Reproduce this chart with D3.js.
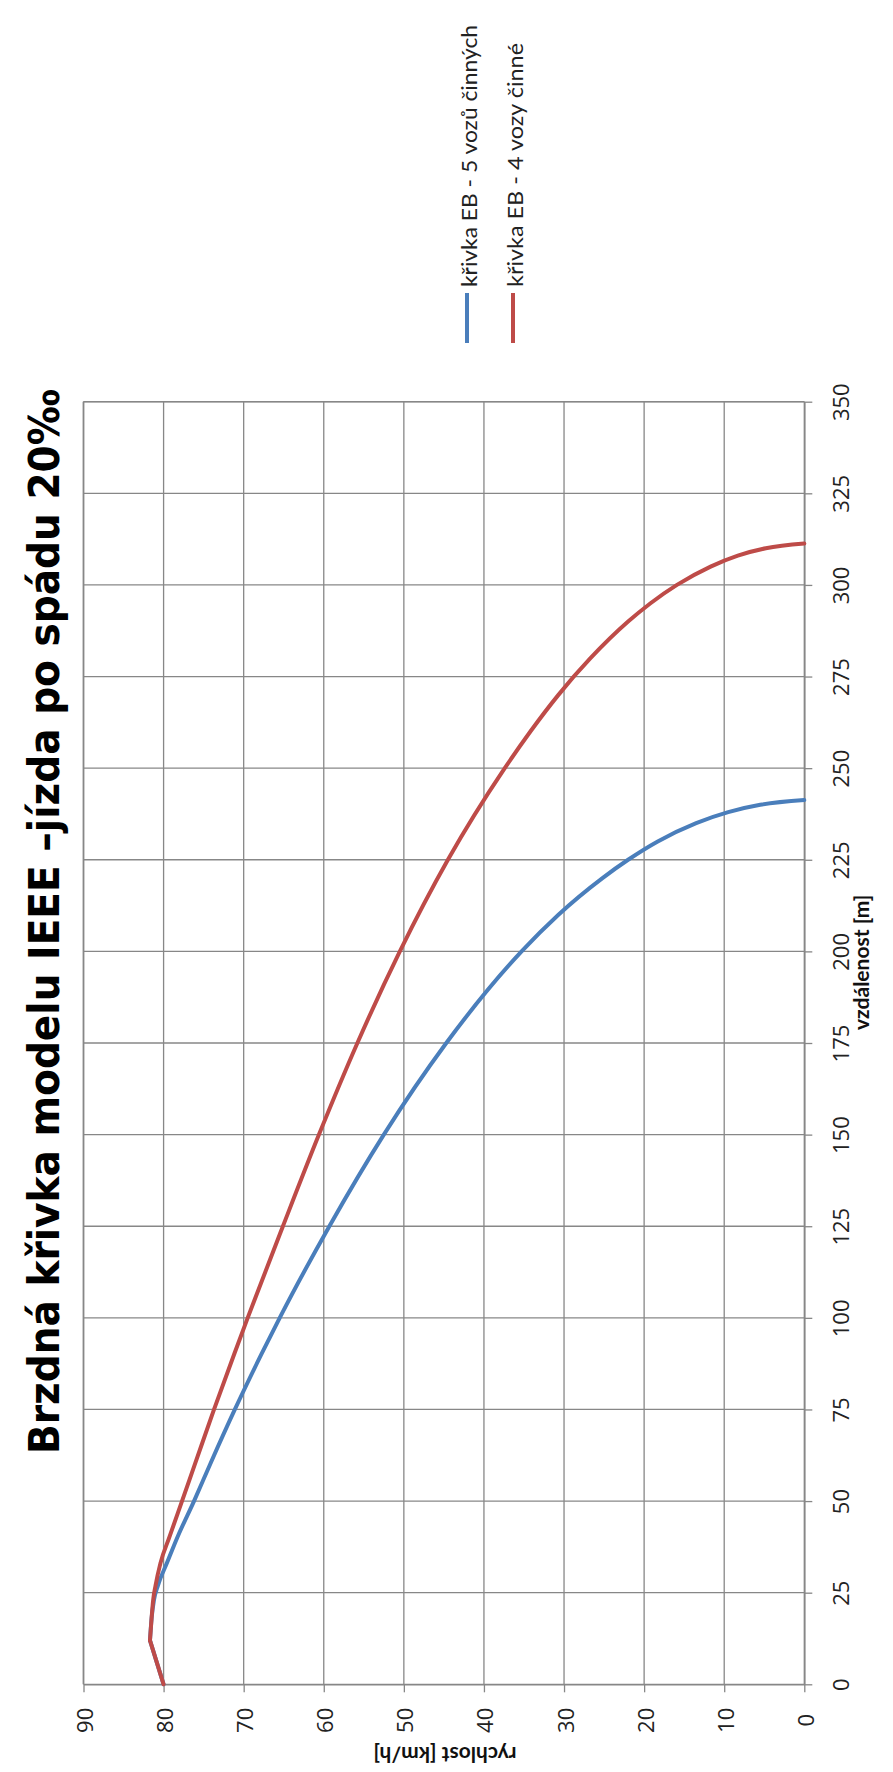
<!DOCTYPE html>
<html>
<head>
<meta charset="utf-8">
<script src="https://cdn.jsdelivr.net/npm/d3@7"></script>
<style>
  html, body { margin: 0; padding: 0; background: #fff; }
  svg { display: block; }
</style>
</head>
<body>
<svg id="chart" width="893" height="1772"></svg>
<script>
// ---- data (distance [m] -> speed [km/h]) ----
const title = "Brzdná křivka modelu IEEE –jízda po spádu 20‰";
const xAxisTitle = "vzdálenost [m]";
const yAxisTitle = "rychlost [km/h]";
const distanceTicks = [0, 25, 50, 75, 100, 125, 150, 175, 200, 225, 250, 275, 300, 325, 350];
const speedTicks = [0, 10, 20, 30, 40, 50, 60, 70, 80, 90];
const seriesNames = ["křivka EB - 5 vozů činných", "křivka EB - 4 vozy činné"];

const dist5 = [0, 12, 18, 23, 27, 33, 40, 50, 60, 75, 90, 100, 125, 150, 175, 200, 210, 220, 225, 230, 235, 238, 240, 241.3];
const speed5 = [80, 81.7, 81.5, 81.2, 80.7, 79.6, 78.3, 76.2, 74.2, 71.1, 67.8, 65.5, 59.3, 52.5, 44.7, 35.3, 30.7, 25.2, 22.0, 18.3, 13.5, 9.5, 5.5, 0];

const dist4 = [0, 12, 18, 23, 27, 33, 40, 50, 60, 75, 90, 100, 125, 150, 175, 200, 225, 250, 260, 270, 280, 290, 295, 300, 305, 308, 310, 311.3];
const speed4 = [80, 81.7, 81.5, 81.3, 81.0, 80.4, 79.3, 77.7, 76.1, 73.7, 71.2, 69.5, 65.1, 60.6, 55.8, 50.5, 44.5, 37.4, 34.2, 30.7, 26.7, 22.0, 19.2, 15.9, 11.7, 8.3, 4.8, 0];

const colors = ["#4A7EBB", "#BE4B48"];

// ---- layout ----
const svg = d3.select("#chart");
const plot = { left: 83.5, right: 804.3, top: 401.7, bottom: 1684.3 };

const sx = d3.scaleLinear().domain([90, 0]).range([plot.left, plot.right]);   // speed (horizontal)
const sy = d3.scaleLinear().domain([0, 350]).range([plot.bottom, plot.top]);  // distance (vertical)

const gridColor = "#878787";
const tickFont = "'Open Sans', 'DejaVu Sans', sans-serif";

// gridlines
const g = svg.append("g");
g.selectAll("line.vg").data(speedTicks).enter().append("line")
  .attr("x1", d => sx(d)).attr("x2", d => sx(d))
  .attr("y1", plot.top).attr("y2", plot.bottom)
  .attr("stroke", gridColor).attr("stroke-width", 1.3);
g.selectAll("line.hg").data(distanceTicks).enter().append("line")
  .attr("x1", plot.left).attr("x2", plot.right)
  .attr("y1", d => sy(d)).attr("y2", d => sy(d))
  .attr("stroke", gridColor).attr("stroke-width", 1.3);

// distance axis (right)
const axR = svg.append("g")
  .attr("transform", `translate(${plot.right},0)`)
  .call(d3.axisRight(sy).tickValues(distanceTicks).tickSize(8).tickSizeOuter(0));
axR.select(".domain").attr("stroke", gridColor).attr("stroke-width", 1.6);
axR.selectAll(".tick line").attr("stroke", gridColor).attr("stroke-width", 1.3);
axR.selectAll(".tick text")
  .attr("x", null).attr("dy", null)
  .attr("transform", "translate(36,0) rotate(-90)")
  .attr("text-anchor", "middle").attr("dominant-baseline", "central")
  .attr("font-family", tickFont).attr("font-size", 22).attr("fill", "#222");

// speed axis (bottom)
const axB = svg.append("g")
  .attr("transform", `translate(0,${plot.bottom})`)
  .call(d3.axisBottom(sx).tickValues(speedTicks).tickSize(8).tickSizeOuter(0));
axB.select(".domain").attr("stroke", gridColor).attr("stroke-width", 1.6);
axB.selectAll(".tick line").attr("stroke", gridColor).attr("stroke-width", 1.3);
axB.selectAll(".tick text")
  .attr("y", null).attr("dy", null)
  .attr("transform", "translate(0,36) rotate(-90)")
  .attr("text-anchor", "middle").attr("dominant-baseline", "central")
  .attr("font-family", tickFont).attr("font-size", 22).attr("fill", "#222");

// left and top border
svg.append("line").attr("x1", plot.left).attr("x2", plot.left).attr("y1", plot.top).attr("y2", plot.bottom)
  .attr("stroke", gridColor).attr("stroke-width", 1.6);
svg.append("line").attr("x1", plot.left).attr("x2", plot.right).attr("y1", plot.top).attr("y2", plot.top)
  .attr("stroke", gridColor).attr("stroke-width", 1.6);

// series: straight first segment, smooth afterwards
const lineStraight = d3.line().x(d => sx(d[1])).y(d => sy(d[0]));
const lineSmooth = d3.line().x(d => sx(d[1])).y(d => sy(d[0])).curve(d3.curveMonotoneX);
const series = [d3.zip(dist5, speed5), d3.zip(dist4, speed4)];
const sg = svg.selectAll("g.series").data(series).enter().append("g").attr("class", "series");
sg.append("path")
  .attr("d", d => lineStraight(d.slice(0, 2)))
  .attr("fill", "none").attr("stroke", (d, i) => colors[i])
  .attr("stroke-width", 4).attr("stroke-linecap", "round");
sg.append("path")
  .attr("d", d => lineSmooth(d.slice(1)))
  .attr("fill", "none").attr("stroke", (d, i) => colors[i])
  .attr("stroke-width", 4).attr("stroke-linejoin", "round").attr("stroke-linecap", "round");

// title
svg.append("text")
  .attr("transform", `translate(59,${(389 + 1454) / 2}) rotate(-90)`)
  .attr("text-anchor", "middle")
  .attr("font-family", "'Liberation Sans Narrow', 'DejaVu Sans Condensed', 'Open Sans', sans-serif")
  .attr("font-weight", "bold").attr("font-size", 42)
  .attr("textLength", 1065).attr("lengthAdjust", "spacingAndGlyphs")
  .attr("fill", "#000")
  .text(title);

// axis titles
svg.append("text")
  .attr("transform", `translate(860,${sy(197)}) rotate(-90)`)
  .attr("text-anchor", "middle").attr("dominant-baseline", "central")
  .attr("font-family", "Lato, 'Open Sans', sans-serif").attr("font-weight", "bold").attr("font-size", 21)
  .attr("fill", "#111")
  .text(xAxisTitle);

svg.append("text")
  .attr("transform", `translate(445,1755) rotate(180)`)
  .attr("text-anchor", "middle").attr("dominant-baseline", "central")
  .attr("font-family", "Lato, 'Open Sans', sans-serif").attr("font-weight", "bold").attr("font-size", 21)
  .attr("fill", "#111")
  .text(yAxisTitle);

// legend
const legendX = [467, 513];
const legendLen = [262, 244];
const lg = svg.selectAll("g.legend").data(seriesNames).enter().append("g").attr("class", "legend");
lg.append("line")
  .attr("x1", (d, i) => legendX[i]).attr("x2", (d, i) => legendX[i])
  .attr("y1", 343).attr("y2", 293)
  .attr("stroke", (d, i) => colors[i]).attr("stroke-width", 4);
lg.append("text")
  .attr("transform", (d, i) => `translate(${legendX[i] + 1},287) rotate(-90)`)
  .attr("text-anchor", "start").attr("dominant-baseline", "central")
  .attr("font-family", "Lato, 'Open Sans', sans-serif").attr("font-size", 21)
  .attr("textLength", (d, i) => legendLen[i]).attr("lengthAdjust", "spacingAndGlyphs")
  .attr("fill", "#222")
  .text(d => d);
</script>
</body>
</html>
